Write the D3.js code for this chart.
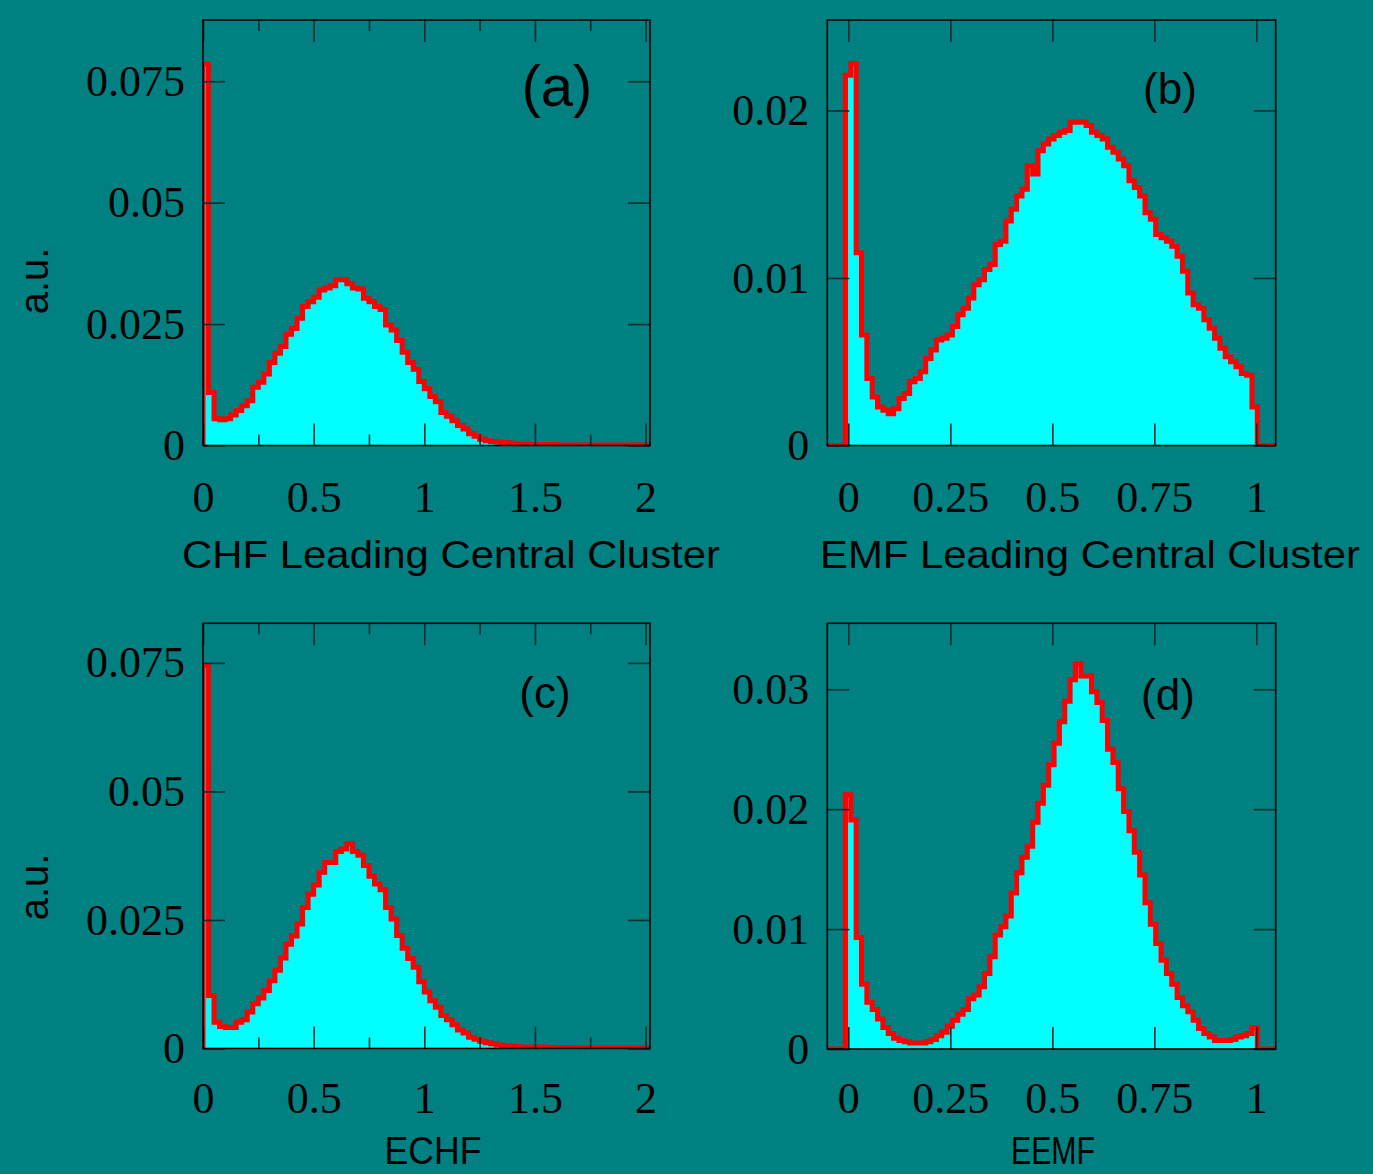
<!DOCTYPE html>
<html><head><meta charset="utf-8">
<script src="https://cdnjs.cloudflare.com/ajax/libs/d3/7.8.5/d3.min.js"></script>
<style>html,body{margin:0;padding:0;background:#008080;} svg{display:block;}</style>
</head><body><svg id="c" width="1373" height="1174"></svg>
<script>
// ---------------- data ----------------
const chfBinStart = 0, chfBinWidth = 0.025;      // 80 bins, 0..2
const emfBinStart = -0.007, emfBinWidth = 0.01311; // 77 bins, ~0..1

const chfValues = [0.0785,0.0109,0.0055,0.0053,0.0055,0.0063,0.0072,0.0082,0.0092,0.0120,
  0.0130,0.0147,0.0171,0.0190,0.0204,0.0229,0.0241,0.0262,0.0286,0.0296,
  0.0305,0.0320,0.0324,0.0329,0.0341,0.0341,0.0333,0.0324,0.0322,0.0303,
  0.0296,0.0286,0.0280,0.0248,0.0238,0.0216,0.0192,0.0171,0.0157,0.0132,
  0.0117,0.0101,0.0090,0.0068,0.0060,0.0051,0.0041,0.0034,0.0024,0.0019,
  0.0013,0.0010,0.0008,0.0007,0.0006,0.0005,0.0004,0.0003,0.0003,0.0002,
  0.0002,0.0002,0.0002,0.0002,0.0001,0.0001,0.0001,0.0001,0.0001,0.0001,
  0.0001,0.0001,0.0001,0.0001,0.0001,0.0001,0.0001,0.0001,0.0001,0.0001];

const emfValues = [0.0221,0.0228,0.0115,0.0066,0.0040,0.0029,0.0023,0.0021,0.0019,0.0022,
  0.0028,0.0031,0.0038,0.0040,0.0044,0.0052,0.0057,0.0063,0.0064,0.0066,
  0.0071,0.0078,0.0082,0.0088,0.0096,0.0099,0.0105,0.0108,0.0120,0.0122,
  0.0134,0.0141,0.0149,0.0153,0.0167,0.0162,0.0176,0.0180,0.0183,0.0185,
  0.0187,0.0188,0.0193,0.0193,0.0193,0.0191,0.0187,0.0185,0.0183,0.0178,
  0.0175,0.0171,0.0167,0.0158,0.0154,0.0149,0.0139,0.0135,0.0126,0.0124,
  0.0122,0.0119,0.0113,0.0104,0.0091,0.0084,0.0082,0.0075,0.0070,0.0064,
  0.0058,0.0053,0.0050,0.0047,0.0043,0.0042,0.0023];

const echfValues = [0.0745,0.0103,0.0051,0.0043,0.0041,0.0041,0.0051,0.0056,0.0071,0.0087,
  0.0098,0.0113,0.0132,0.0152,0.0176,0.0203,0.0219,0.0242,0.0274,0.0300,
  0.0318,0.0343,0.0362,0.0362,0.0383,0.0388,0.0398,0.0383,0.0376,0.0356,
  0.0335,0.0320,0.0309,0.0274,0.0252,0.0220,0.0195,0.0175,0.0158,0.0130,
  0.0110,0.0093,0.0080,0.0064,0.0056,0.0046,0.0036,0.0030,0.0022,0.0018,
  0.0014,0.0011,0.0009,0.0007,0.0006,0.0005,0.0004,0.0003,0.0003,0.0003,
  0.0003,0.0003,0.0002,0.0002,0.0002,0.0002,0.0002,0.0002,0.0001,0.0001,
  0.0001,0.0001,0.0001,0.0001,0.0001,0.0001,0.0001,0.0001,0.0001,0.0001];

const eemfValues = [0.0212,0.0191,0.0093,0.0054,0.0039,0.0033,0.0025,0.0018,0.0013,0.0009,
  0.0007,0.0006,0.0005,0.0005,0.0005,0.0006,0.0008,0.0011,0.0014,0.0019,
  0.0024,0.0029,0.0033,0.0042,0.0045,0.0052,0.0063,0.0077,0.0095,0.0102,
  0.0111,0.0130,0.0147,0.0160,0.0169,0.0189,0.0205,0.0220,0.0237,0.0255,
  0.0273,0.0290,0.0308,0.0321,0.0311,0.0311,0.0298,0.0289,0.0274,0.0250,
  0.0239,0.0217,0.0198,0.0182,0.0164,0.0145,0.0122,0.0104,0.0088,0.0074,
  0.0063,0.0054,0.0043,0.0036,0.0031,0.0024,0.0017,0.0013,0.0010,0.0007,
  0.0007,0.0007,0.0008,0.0010,0.0011,0.0013,0.0018];

const chfXTicks = [0, 0.5, 1, 1.5, 2];
const chfXTickLabels = ["0", "0.5", "1", "1.5", "2"];
const chfXMinorTicks = [0.25, 0.75, 1.25, 1.75];
const emfXTicks = [0, 0.25, 0.5, 0.75, 1];
const emfXTickLabels = ["0", "0.25", "0.5", "0.75", "1"];
const chfYTicks = [0, 0.025, 0.05, 0.075];
const chfYTickLabels = ["0", "0.025", "0.05", "0.075"];
const emfYTicks = [0, 0.01, 0.02];
const emfYTickLabels = ["0", "0.01", "0.02"];
const eemfYTicks = [0, 0.01, 0.02, 0.03];
const eemfYTickLabels = ["0", "0.01", "0.02", "0.03"];
const xTitles = ["CHF Leading Central Cluster", "EMF Leading Central Cluster", "ECHF", "EEMF"];
const panelTags = ["(a)", "(b)", "(c)", "(d)"];
const yTitle = "a.u.";

// ---------------- layout ----------------
const panels = [
  {id:"a", left:203, right:650, top:20, bottom:445.5, xDom:[0,2.02], yMax:0.0876,
   values:chfValues, b0:chfBinStart, bw:chfBinWidth,
   xT:chfXTicks, xL:chfXTickLabels, xM:chfXMinorTicks, yT:chfYTicks, yL:chfYTickLabels,
   title:xTitles[0], tX:451, tY:568, tLen:538, tS:39, tag:panelTags[0], gX:557, gY:106, gS:58,
   yTitle:true, yTY:281, labPad:35.5},
  {id:"b", left:827.3, right:1275.7, top:20, bottom:445.5, xDom:[-0.0515,1.0475], yMax:0.0254,
   values:emfValues, b0:emfBinStart, bw:emfBinWidth,
   xT:emfXTicks, xL:emfXTickLabels, xM:[], yT:emfYTicks, yL:emfYTickLabels,
   title:xTitles[1], tX:1090, tY:568, tLen:540, tS:39, tag:panelTags[1], gX:1170, gY:104, gS:44,
   yTitle:false, labPad:35.5},
  {id:"c", left:203, right:650, top:623.3, bottom:1048.5, xDom:[0,2.02], yMax:0.0827,
   values:echfValues, b0:chfBinStart, bw:chfBinWidth,
   xT:chfXTicks, xL:chfXTickLabels, xM:chfXMinorTicks, yT:chfYTicks, yL:chfYTickLabels,
   title:xTitles[2], tX:433, tY:1164, tLen:97, tS:38, tag:panelTags[2], gX:545, gY:708, gS:44,
   yTitle:true, yTY:887, labPad:33},
  {id:"d", left:827.3, right:1275.7, top:623.3, bottom:1049, xDom:[-0.0515,1.0475], yMax:0.0355,
   values:eemfValues, b0:emfBinStart, bw:emfBinWidth,
   xT:emfXTicks, xL:emfXTickLabels, xM:[], yT:eemfYTicks, yL:eemfYTickLabels,
   title:xTitles[3], tX:1053, tY:1164, tLen:84, tS:38, tag:panelTags[3], gX:1168, gY:710, gS:44,
   yTitle:false, labPad:33}
];

const svg = d3.select("#c");
svg.append("rect").attr("width",1373).attr("height",1174).attr("fill","#008080");
const defs = svg.append("defs");
const TICKC = "#0b2f2f";

panels.forEach(p => {
  const x = d3.scaleLinear().domain(p.xDom).range([p.left, p.right]);
  const y = d3.scaleLinear().domain([0, p.yMax]).range([p.bottom, p.top]);

  // step outline
  const pts = [[p.xDom[0], 0], [p.b0, 0]];
  p.values.forEach((v, i) => {
    pts.push([p.b0 + i * p.bw, v]);
    pts.push([p.b0 + (i + 1) * p.bw, v]);
  });
  pts.push([p.b0 + p.values.length * p.bw, 0]);
  pts.push([p.xDom[1], 0]);
  const line = d3.line().x(d => x(d[0])).y(d => y(d[1]));

  defs.append("clipPath").attr("id", "clip" + p.id)
    .append("rect").attr("x", p.left).attr("y", p.top)
    .attr("width", p.right - p.left).attr("height", p.bottom - p.top);

  const g = svg.append("g").attr("clip-path", `url(#clip${p.id})`);
  g.append("path").attr("d", line(pts) + "Z").attr("fill", "#00ffff").attr("stroke", "none");
  g.append("path").attr("d", line(pts)).attr("fill", "none").attr("stroke", "#ff0000")
    .attr("stroke-width", 5).attr("stroke-linejoin", "miter").attr("stroke-linecap", "butt");

  const styleAxis = sel => {
    sel.select(".domain").remove();
    sel.selectAll(".tick line").attr("stroke", TICKC).attr("stroke-width", 1.6);
  };
  // bottom axis with labels
  const xb = svg.append("g").attr("transform", `translate(0,${p.bottom})`)
    .call(d3.axisBottom(x).tickValues(p.xT).tickFormat((d, i) => p.xL[i])
      .tickSizeInner(-22).tickSizeOuter(0).tickPadding(p.labPad));
  styleAxis(xb);
  xb.selectAll(".tick text").attr("font-family", "'Liberation Serif', 'Times New Roman', serif")
    .attr("font-size", 44).attr("fill", "#000");
  // top axis
  const xt = svg.append("g").attr("transform", `translate(0,${p.top})`)
    .call(d3.axisTop(x).tickValues(p.xT).tickFormat("").tickSizeInner(-22).tickSizeOuter(0));
  styleAxis(xt);
  if (p.xM.length) {
    const xbm = svg.append("g").attr("transform", `translate(0,${p.bottom})`)
      .call(d3.axisBottom(x).tickValues(p.xM).tickFormat("").tickSizeInner(-11).tickSizeOuter(0));
    styleAxis(xbm);
    const xtm = svg.append("g").attr("transform", `translate(0,${p.top})`)
      .call(d3.axisTop(x).tickValues(p.xM).tickFormat("").tickSizeInner(-11).tickSizeOuter(0));
    styleAxis(xtm);
  }
  // left axis with labels
  const yl = svg.append("g").attr("transform", `translate(${p.left},0)`)
    .call(d3.axisLeft(y).tickValues(p.yT).tickFormat((d, i) => p.yL[i])
      .tickSizeInner(-22).tickSizeOuter(0).tickPadding(18));
  styleAxis(yl);
  yl.selectAll(".tick text").attr("font-family", "'Liberation Serif', 'Times New Roman', serif")
    .attr("font-size", 44).attr("fill", "#000");
  const yr = svg.append("g").attr("transform", `translate(${p.right},0)`)
    .call(d3.axisRight(y).tickValues(p.yT).tickFormat("").tickSizeInner(-22).tickSizeOuter(0));
  styleAxis(yr);

  // frame
  svg.append("rect").attr("x", p.left).attr("y", p.top)
    .attr("width", p.right - p.left).attr("height", p.bottom - p.top)
    .attr("fill", "none").attr("stroke", "#000").attr("stroke-width", 1.6);

  // titles
  svg.append("text").attr("x", p.tX).attr("y", p.tY).attr("text-anchor", "middle")
    .attr("font-family", "'Liberation Sans', Arial, sans-serif").attr("font-size", p.tS)
    .attr("textLength", p.tLen).attr("lengthAdjust", "spacingAndGlyphs")
    .attr("fill", "#000").text(p.title);
  svg.append("text").attr("x", p.gX).attr("y", p.gY).attr("text-anchor", "middle")
    .attr("font-family", "'Liberation Sans', Arial, sans-serif").attr("font-size", p.gS)
    .attr("fill", "#000").text(p.tag);
  if (p.yTitle) {
    svg.append("text").attr("transform", `translate(48,${p.yTY}) rotate(-90)`)
      .attr("text-anchor", "middle")
      .attr("font-family", "'Liberation Sans', Arial, sans-serif").attr("font-size", 40)
      .attr("fill", "#000").text(yTitle);
  }
});
</script></body></html>
